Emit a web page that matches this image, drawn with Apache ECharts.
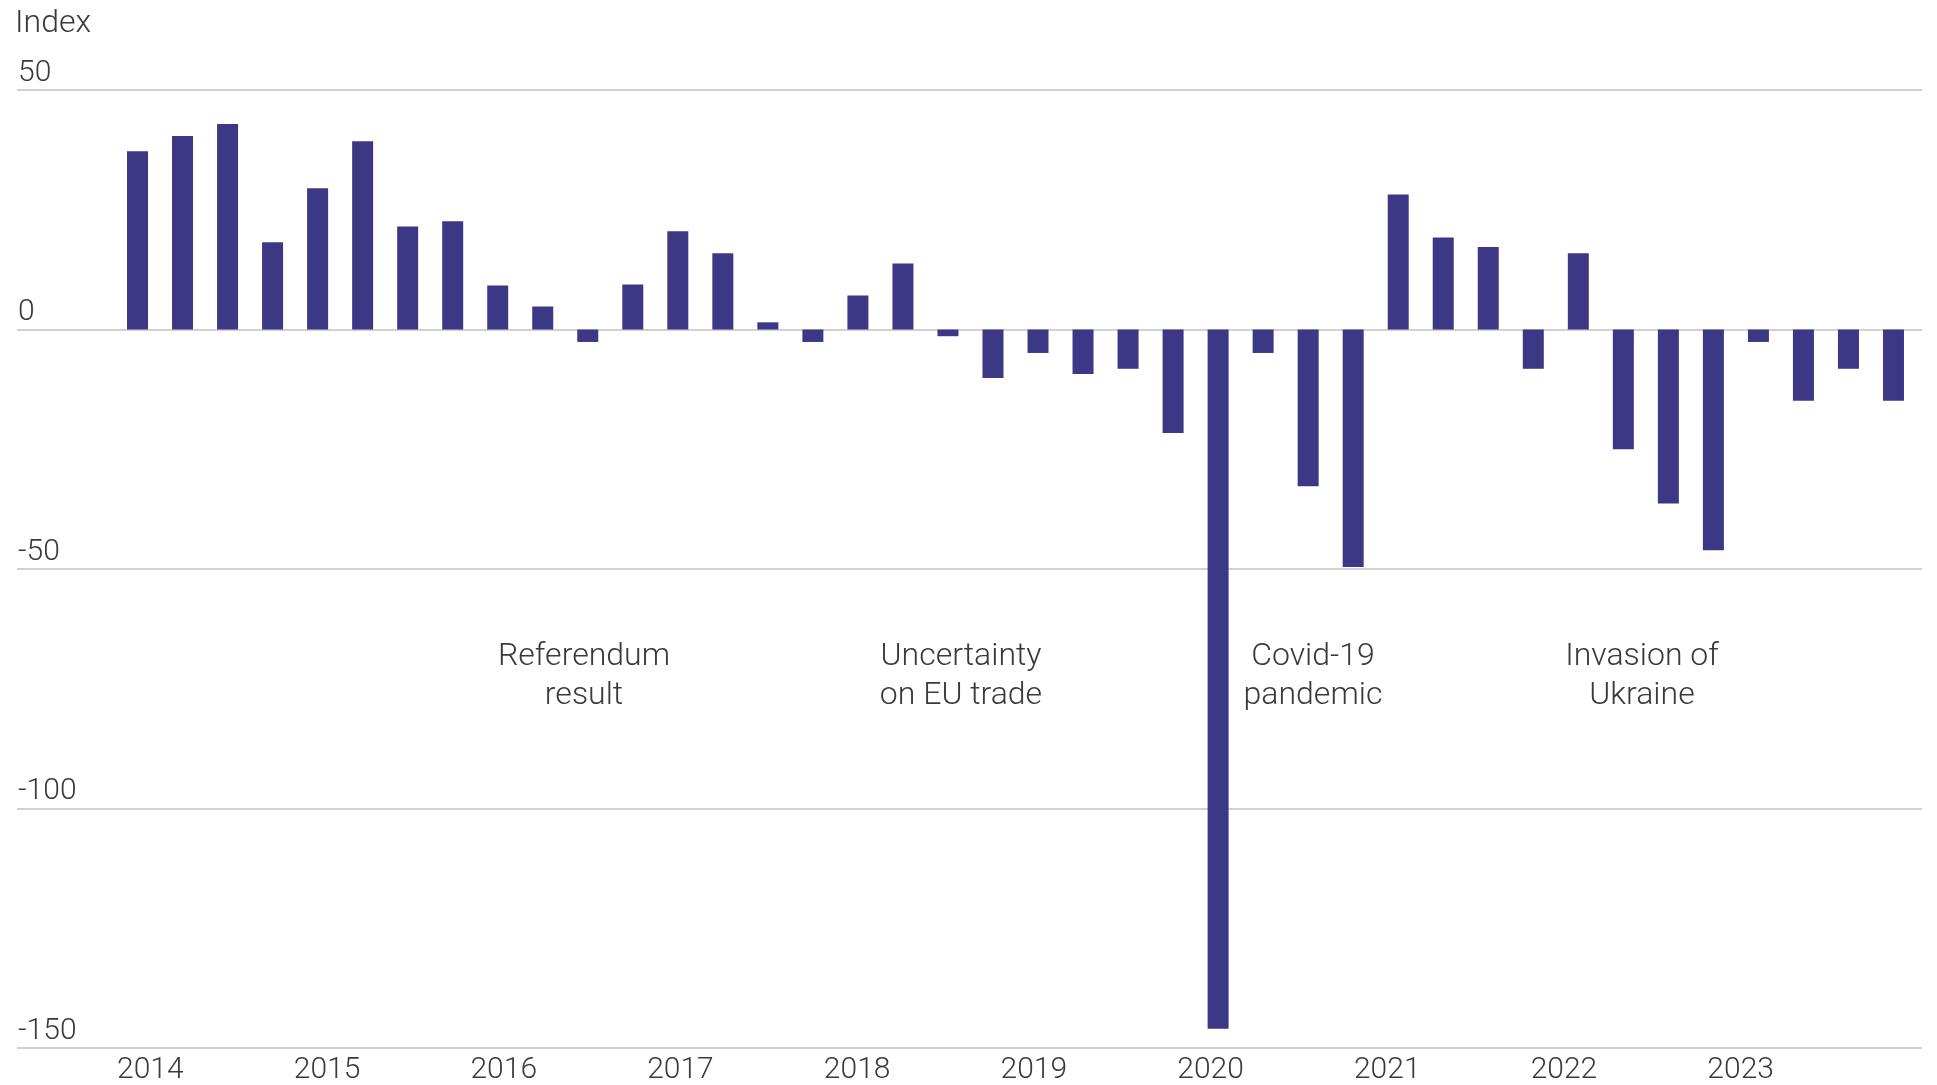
<!DOCTYPE html>
<html>
<head>
<meta charset="utf-8">
<script src="https://cdn.jsdelivr.net/npm/echarts@6/dist/echarts.min.js"></script>
<style>html,body{margin:0;padding:0;background:#fff}#c{width:1937px;height:1085px}</style>
</head>
<body>
<div id="c"></div>
<script>
const quarters = [
  '2014 Q1','2014 Q2','2014 Q3','2014 Q4',
  '2015 Q1','2015 Q2','2015 Q3','2015 Q4',
  '2016 Q1','2016 Q2','2016 Q3','2016 Q4',
  '2017 Q1','2017 Q2','2017 Q3','2017 Q4',
  '2018 Q1','2018 Q2','2018 Q3','2018 Q4',
  '2019 Q1','2019 Q2','2019 Q3','2019 Q4',
  '2020 Q1','2020 Q2','2020 Q3','2020 Q4',
  '2021 Q1','2021 Q2','2021 Q3','2021 Q4',
  '2022 Q1','2022 Q2','2022 Q3','2022 Q4',
  '2023 Q1','2023 Q2','2023 Q3','2023 Q4'
];
const indexValues = [
  37.2, 40.4, 42.9, 18.2,
  29.5, 39.3, 21.5, 22.6,
  9.2, 4.8, -2.6, 9.4,
  20.5, 15.9, 1.5, -2.6,
  7.1, 13.8, -1.4, -10.1,
  -4.9, -9.3, -8.2, -21.6,
  -146.0, -4.9, -32.7, -49.6,
  28.2, 19.2, 17.2, -8.2,
  15.9, -25.0, -36.3, -46.1,
  -2.6, -14.9, -8.2, -14.9
];
const yearLabels = ['2014','2015','2016','2017','2018','2019','2020','2021','2022','2023'];
const yTickValues = [-150, -100, -50, 0, 50];
const axisTitle = 'Index';
const annotations = ['Referendum\nresult', 'Uncertainty\non EU trade', 'Covid-19\npandemic', 'Invasion of\nUkraine'];

const yMin = Math.min(...yTickValues);
const yMax = Math.max(...yTickValues);
const yStep = yTickValues[1] - yTickValues[0];

const FONT = 'Roboto';
const TXT = '#3a3a3a';
const FS = 30;
const BAR = '#3c3886';

const annX = [584, 961, 1313, 1642];

const chart = echarts.init(document.getElementById('c'), null, {renderer: 'canvas'});
chart.setOption({
  animation: false,
  backgroundColor: '#ffffff',
  title: {
    text: axisTitle, left: 15, top: 8, padding: 0,
    textStyle: {fontFamily: FONT, fontWeight: 300, fontSize: 32, color: TXT}
  },
  grid: [
    {left: 115, right: 21, top: 90, bottom: 37},
    {left: 17, right: 15, top: 90, bottom: 37},
    {left: 62, right: 108, top: 90, bottom: 37}
  ],
  xAxis: [
    {gridIndex: 0, type: 'category', data: quarters, axisLine: {show: false}, axisTick: {show: false}, axisLabel: {show: false}},
    {gridIndex: 1, type: 'value', min: 0, max: 1, show: false},
    {gridIndex: 2, type: 'category', data: yearLabels, axisLine: {show: false}, axisTick: {show: false}, splitLine: {show: false},
      axisLabel: {fontFamily: FONT, fontWeight: 300, fontSize: FS, color: TXT, margin: 8}}
  ],
  yAxis: [
    {gridIndex: 0, type: 'value', min: yMin, max: yMax, interval: yStep, show: false},
    {gridIndex: 1, type: 'value', min: yMin, max: yMax, interval: yStep,
      axisLine: {show: false}, axisTick: {show: false},
      splitLine: {show: true, lineStyle: {color: '#c2c2c2', width: 1.5}},
      axisLabel: {inside: true, margin: 1, verticalAlign: 'bottom', padding: [0, 0, 2, 0],
        fontFamily: FONT, fontWeight: 300, fontSize: FS, color: TXT}},
    {gridIndex: 2, type: 'value', min: yMin, max: yMax, interval: yStep, show: false}
  ],
  series: [{
    type: 'bar', xAxisIndex: 0, yAxisIndex: 0, data: indexValues,
    barWidth: 21, itemStyle: {color: BAR}, silent: true
  }],
  graphic: annotations.map((t, i) => ({
    type: 'text', x: annX[i], y: 676, silent: true,
    style: {text: t, align: 'center', verticalAlign: 'middle', lineHeight: 39,
      font: '300 32px ' + FONT, fill: TXT}
  }))
});
</script>
</body>
</html>
